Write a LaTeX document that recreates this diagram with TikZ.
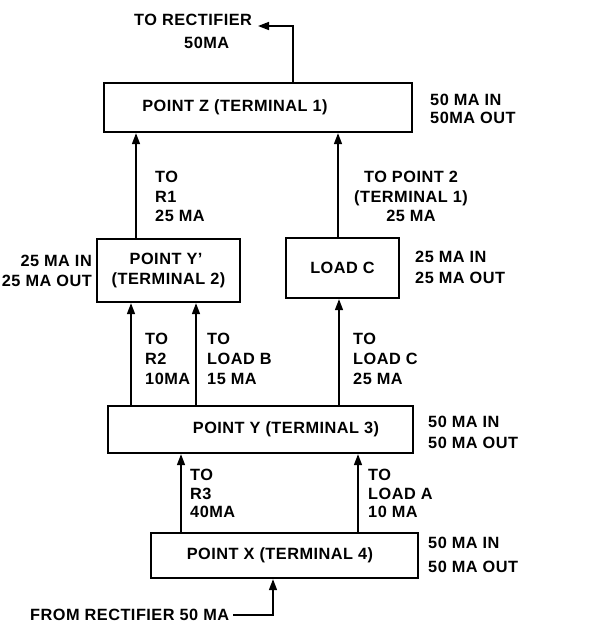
\documentclass[tikz,border=0pt]{standalone}
\usepackage{fontspec}
\setmainfont{Liberation Sans}[LetterSpace=3]
\usetikzlibrary{arrows.meta,calc}
\begin{document}
\begin{tikzpicture}[x=1pt,y=-1pt,
 box/.style={draw,line width=2.3pt,inner sep=0pt,font=\bfseries\fontsize{16.3}{20}\selectfont},
 lbl/.style={inner sep=0pt,font=\bfseries\fontsize{16.3}{20}\selectfont},
 arr/.style={line width=1.5pt,-{Triangle[length=11pt,width=8pt]}}]
\useasboundingbox (0,0) rectangle (616,625);
% boxes
\node[box,minimum width=308pt,minimum height=49pt] (Z) at (258,107.5) {\hspace*{-46pt}POINT Z (TERMINAL 1)};
\node[box,minimum width=143pt,minimum height=63pt,align=left] (Yp) at (168.5,270.5) {\hspace*{18pt}POINT Y'\\(TERMINAL 2)};
\node[box,minimum width=113pt,minimum height=60pt] (LC) at (342.5,268) {LOAD C};
\node[box,minimum width=305pt,minimum height=47pt] (Y) at (260.5,429.5) {\hspace*{51pt}POINT Y (TERMINAL 3)};
\node[box,minimum width=267pt,minimum height=45pt] (X) at (284.5,555.5) {\hspace*{-9pt}POINT X (TERMINAL 4)};
% x positions
\coordinate (x293) at (293,0);
\coordinate (x136) at (136,0);
\coordinate (x338) at (338,0);
\coordinate (x131) at (131,0);
\coordinate (x196) at (196,0);
\coordinate (x339) at (339,0);
\coordinate (x181) at (181,0);
\coordinate (x358) at (358,0);
\coordinate (x273) at (273,0);
\coordinate (rtip) at (258,26);
% labels
\node[lbl,align=left,anchor=north west,font=\bfseries\fontsize{16.3}{23}\selectfont] (rect) at (134,14) {TO RECTIFIER\\\hspace*{50pt}50MA};
\node[lbl,align=left,anchor=north west,font=\bfseries\fontsize{16.3}{18}\selectfont] (zr) at (430,94) {50 MA IN\\50MA OUT};
\node[lbl,align=left,anchor=north west,font=\bfseries\fontsize{16.3}{19.5}\selectfont] (l1) at (155,171) {TO\\R1\\25 MA};
\node[lbl,align=center,anchor=north,font=\bfseries\fontsize{16.3}{19.5}\selectfont] (l2) at (411,171) {TO POINT 2\\(TERMINAL 1)\\25 MA};
\node[lbl,align=right,anchor=north east] (ypl) at (92,255) {25 MA IN\\25 MA OUT};
\node[lbl,align=left,anchor=north west,font=\bfseries\fontsize{16.3}{21}\selectfont] (lcr) at (415,251) {25 MA IN\\25 MA OUT};
\node[lbl,align=left,anchor=north west] (l3) at (145,333) {TO\\R2\\10MA};
\node[lbl,align=left,anchor=north west] (l4) at (207,333) {TO\\LOAD B\\15 MA};
\node[lbl,align=left,anchor=north west] (l5) at (353,333) {TO\\LOAD C\\25 MA};
\node[lbl,align=left,anchor=north west,font=\bfseries\fontsize{16.3}{21}\selectfont] (yr) at (428,416) {50 MA IN\\50 MA OUT};
\node[lbl,align=left,anchor=north west,font=\bfseries\fontsize{16.3}{18.5}\selectfont] (l6) at (190,469) {TO\\R3\\40MA};
\node[lbl,align=left,anchor=north west,font=\bfseries\fontsize{16.3}{18.5}\selectfont] (l7) at (368,469) {TO\\LOAD A\\10 MA};
\node[lbl,align=left,anchor=north west,font=\bfseries\fontsize{16.3}{24}\selectfont] (xr) at (428,537) {50 MA IN\\50 MA OUT};
\node[lbl,anchor=west] (from) at (30,615) {FROM RECTIFIER 50 MA};
% connectors
\draw[arr] (x293 |- Z.north) |- (rtip);
\draw[arr] (x136 |- Yp.north) -- (x136 |- Z.south);
\draw[arr] (x338 |- LC.north) -- (x338 |- Z.south);
\draw[arr] (x131 |- Y.north) -- (x131 |- Yp.south);
\draw[arr] (x196 |- Y.north) -- (x196 |- Yp.south);
\draw[arr] (x339 |- Y.north) -- (x339 |- LC.south);
\draw[arr] (x181 |- X.north) -- (x181 |- Y.south);
\draw[arr] (x358 |- X.north) -- (x358 |- Y.south);
\draw[arr] ([xshift=4pt]from.east) -| (x273 |- X.south);
\end{tikzpicture}
\end{document}
